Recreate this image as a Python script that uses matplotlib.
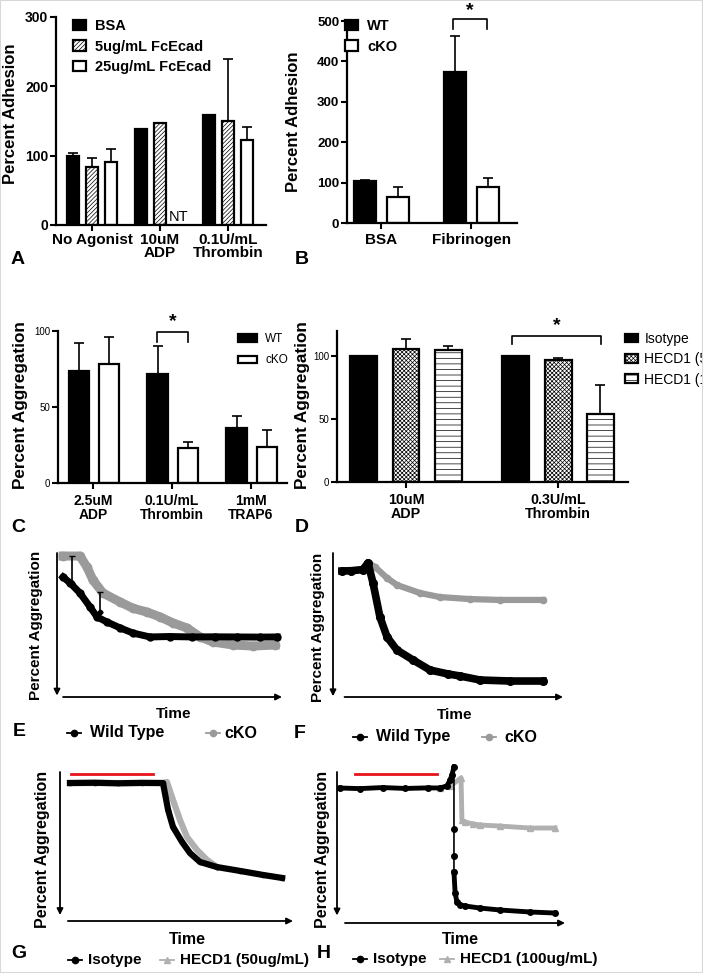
import numpy as np
import matplotlib
matplotlib.use('Agg')
import matplotlib.pyplot as plt
from matplotlib.lines import Line2D
from matplotlib.patches import Rectangle

plt.rcParams['font.family'] = ['Liberation Sans', 'DejaVu Sans']
plt.rcParams['hatch.linewidth'] = 0.5

# ---------------- data ----------------
# A: adhesion with FcEcad
a_groups = ['No Agonist', '10uM\nADP', '0.1U/mL\nThrombin']
a_series = ['BSA', '5ug/mL FcEcad', '25ug/mL FcEcad']
a_bsa = [100, 139, 158]
a_bsa_err = [4, 0, 0]
a_fc5 = [84, 147, 150]
a_fc5_err = [13, 0, 89]
a_fc25 = [91, np.nan, 122]
a_fc25_err = [18, 0, 20]

# B: adhesion WT vs cKO
b_groups = ['BSA', 'Fibrinogen']
b_series = ['WT', 'cKO']
b_wt = [103, 374]
b_wt_err = [4, 89]
b_cko = [64, 89]
b_cko_err = [24, 22]

# C: aggregation WT vs cKO
c_groups = ['2.5uM\nADP', '0.1U/mL\nThrombin', '1mM\nTRAP6']
c_series = ['WT', 'cKO']
c_wt = [74, 72, 36]
c_wt_err = [18, 18, 8]
c_cko = [78, 23, 24]
c_cko_err = [18, 4, 11]

# D: aggregation with HECD1
d_groups = ['10uM\nADP', '0.3U/mL\nThrombin']
d_series = ['Isotype', 'HECD1 (50ug/mL)', 'HECD1 (100ug/mL)']
d_iso = [100, 100]
d_iso_err = [0, 0]
d_h50 = [106, 97]
d_h50_err = [8, 1.5]
d_h100 = [105, 54]
d_h100_err = [3, 23]

# E: traces (time %, aggregation % of axis, downward)
e_wt_t = [2.7, 5.8, 10.2, 14.7, 17.8, 22.2, 28, 33.8, 41.3, 50, 60, 70, 80, 90, 97.8]
e_wt_y = [16.7, 20.8, 27.8, 37.5, 44.4, 47.9, 52, 55.6, 58.3, 58, 58.3, 58.2, 58.3, 58.4, 58.3]
e_wt_err_t = [6.7, 19.1]
e_wt_err_y = [20.5, 41]
e_wt_err = [18.4, 14]
e_cko_t = [2.7, 10.2, 13.3, 16, 20.4, 28, 33.8, 40, 45.8, 51.6, 57.8, 63.6, 69.3, 78.2, 87.1, 96.9]
e_cko_y = [2.1, 2.1, 9.7, 18.8, 27.8, 34, 38.4, 41, 44.4, 48.6, 52.1, 58.3, 61.8, 63.9, 64.6, 63.9]

# F
f_wt_t = [3.9, 8, 13, 15.2, 17.4, 20.4, 23.5, 27.8, 34.8, 42.2, 50, 55.2, 63.9, 77, 91.3]
f_wt_y = [12.5, 12.3, 11.5, 6.9, 20.8, 44.4, 58.3, 67.4, 74.3, 81.3, 84, 85.4, 88.2, 88.9, 88.9]
f_cko_t = [15.2, 18.3, 23.5, 27.8, 37.8, 46.5, 59.6, 72.6, 91.3]
f_cko_y = [6.9, 9.7, 17.4, 22.2, 27.8, 30.6, 32, 32.6, 32.6]

# G
g_iso_t = [4.3, 15, 25, 35, 44.2, 46.4, 48.5, 52.4, 55.8, 60.1, 67.4, 77.3, 87.1, 95.3]
g_iso_y = [7.4, 7.2, 7.6, 7.3, 7.4, 25.5, 36.9, 47, 54.4, 60.4, 63.8, 66.4, 69.1, 71.1]
g_h50_t = [4.3, 25, 44.2, 45.9, 48.5, 51.5, 54.5, 58.8, 63.1, 67.4]
g_h50_y = [7.4, 7.4, 7.4, 6.7, 18.8, 32.2, 43.6, 52.3, 59, 63.8]
g_red_t = [4.7, 39.9]
g_red_y = [1.3, 1.3]

# H
h_iso_t = [1.3, 10, 20, 30, 40, 45, 48.2, 49.6, 50.4, 51.3, 51.3, 51.3, 51.3,
           51.8, 52.6, 54, 56, 62.7, 71.5, 84.6, 95.6]
h_iso_y = [10.6, 11, 10.3, 10.9, 10.5, 10.6, 9.3, 5.3, 2, -3.3, 37.7, 55.6, 66.2,
           80, 86.1, 88.1, 88.7, 90.1, 91.4, 92.7, 93.4]
h_h100_t = [45, 50, 54.4, 54.8, 56, 59.6, 62.7, 71.5, 84.6, 95.6]
h_h100_y = [10.6, 9, 3.9, 31.8, 33.1, 34.4, 35.1, 35.8, 37.1, 37.1]
h_red_t = [7.9, 43.9]
h_red_y = [1.3, 1.3]

# ---------------- layout helpers ----------------
W, H = 703, 973
fig = plt.figure(figsize=(W / 100, H / 100), dpi=100)


def box(l, t, r, b):
    return [l / W, 1 - b / H, (r - l) / W, (b - t) / H]


def fx(x):
    return x / W


def fy(y):
    return 1 - y / H


def style_bar_axes(ax, tick_size, tick_weight, xlab_size, pad_x):
    ax.spines[['top', 'right']].set_visible(False)
    for s in ['left', 'bottom']:
        ax.spines[s].set_linewidth(1.6)
    ax.tick_params(direction='out', length=4, width=1.5, pad=1.5)
    ax.tick_params(axis='x', pad=pad_x)
    for lab in ax.get_yticklabels():
        lab.set_fontsize(tick_size)
        lab.set_fontweight(tick_weight)
    for lab in ax.get_xticklabels():
        lab.set_fontsize(xlab_size)
        lab.set_fontweight('bold')
        lab.set_linespacing(0.95)


def draw_bars(ax, vals_list, errs_list, offsets, width, styles, labels):
    x = np.arange(len(vals_list[0]))
    conts = []
    for vals, errs, off, st, lab in zip(vals_list, errs_list, offsets, styles, labels):
        c = ax.bar(x + off, vals, width, edgecolor='black', linewidth=1.6, label=lab, zorder=2, **st)
        conts.append(c)
        e = np.array(errs, float)
        v = np.array(vals, float)
        m = e > 0
        ax.errorbar((x + off)[m], v[m], yerr=[np.zeros(m.sum()), e[m]], fmt='none',
                    ecolor='black', elinewidth=1.2, capsize=3.5, capthick=1.2, zorder=1)
    return conts


def bracket(ax, x1, x2, y0, y1, ys, size=14):
    ax.plot([x1, x1, x2, x2], [y0, y1, y1, y0], color='black', lw=1.2, clip_on=False)
    ax.text((x1 + x2) / 2, ys, '*', ha='center', va='center', fontsize=size, fontweight='bold')


def bar_legend(ax, conts, labels, x_px, y_px, size, weight, hl, hh, ls, tp):
    return ax.legend(conts, labels, loc='upper left', bbox_to_anchor=(fx(x_px), fy(y_px)),
                     bbox_transform=fig.transFigure, frameon=False, borderpad=0, borderaxespad=0,
                     handlelength=hl, handleheight=hh, labelspacing=ls, handletextpad=tp,
                     prop={'size': size, 'weight': weight})


def trace_axes(l, t, r, b, ytip, xstart):
    ax = fig.add_axes(box(l, t, r, b))
    ax.set_xlim(0, 100)
    ax.set_ylim(100, 0)
    ax.axis('off')
    ap = dict(arrowstyle='-|>', lw=1.3, color='black', mutation_scale=9, shrinkA=0, shrinkB=0)
    ax.annotate('', xy=(0, ytip), xytext=(0, 1), xycoords='axes fraction', arrowprops=ap)
    ax.annotate('', xy=(1, 0), xytext=(xstart, 0), xycoords='axes fraction', arrowprops=ap)
    return ax


def trace_key(x_px, y_px, color, marker, text, size, tx):
    fig.add_artist(Line2D([fx(x_px), fx(x_px + 14)], [fy(y_px)] * 2, transform=fig.transFigure,
                          color=color, lw=1.3))
    fig.add_artist(Line2D([fx(x_px + 7)], [fy(y_px)], transform=fig.transFigure, color=color,
                          marker=marker, ms=4.5, lw=0))
    fig.text(fx(tx), fy(y_px), text, va='center', ha='left', fontsize=size, fontweight='bold')


def ylabel(x_px, y_px, text, size, weight='bold'):
    fig.text(fx(x_px), fy(y_px), text, rotation=90, ha='center', va='center',
             fontsize=size, fontweight=weight)


def letter(x_px, y_px, text):
    fig.text(fx(x_px), fy(y_px), text, ha='center', va='center', fontsize=14, fontweight='bold')


# ---------------- panel A ----------------
ax = fig.add_axes(box(56, 17, 266, 225))
conts = draw_bars(ax, [a_bsa, a_fc5, a_fc25], [a_bsa_err, a_fc5_err, a_fc25_err],
                  [-0.28, 0, 0.28], 0.17,
                  [dict(color='black'), dict(color='white', hatch='////////'), dict(color='white')],
                  a_series)
ax.set_xlim(-0.53, 2.56)
ax.set_ylim(0, 300)
ax.set_yticks([0, 100, 200, 300])
ax.set_xticks(range(3), a_groups)
style_bar_axes(ax, 10, 'bold', 11, 1.5)
ax.text(1.28, 1, 'NT', ha='center', va='bottom', fontsize=10.5)
bar_legend(ax, conts, a_series, 73, 19, 10.5, 'bold', 0.9, 0.75, 0.45, 0.6)
ylabel(11, 114, 'Percent Adhesion', 12)
letter(18, 260, 'A')

# ---------------- panel B ----------------
ax = fig.add_axes(box(347, 21, 517, 223))
conts = draw_bars(ax, [b_wt, b_cko], [b_wt_err, b_cko_err], [-0.18, 0.19], 0.245,
                  [dict(color='black'), dict(color='white')], b_series)
ax.set_xlim(-0.38, 1.51)
ax.set_ylim(0, 500)
ax.set_yticks(range(0, 501, 100))
ax.set_xticks(range(2), b_groups)
style_bar_axes(ax, 9.5, 'bold', 11, 3)
bracket(ax, 0.8, 1.18, 481, 504, 527)
bar_legend(ax, conts, b_series, 345, 19, 10.5, 'bold', 0.9, 0.75, 0.45, 0.6)
ylabel(294, 122, 'Percent Adhesion', 12)
letter(302, 260, 'B')

# ---------------- panel C ----------------
ax = fig.add_axes(box(58, 331, 287, 483))
conts = draw_bars(ax, [c_wt, c_cko], [c_wt_err, c_cko_err], [-0.18, 0.2], 0.26,
                  [dict(color='black'), dict(color='white')], c_series)
ax.set_xlim(-0.443, 2.456)
ax.set_ylim(0, 100)
ax.set_yticks([0, 50, 100])
ax.set_xticks(range(3), c_groups)
style_bar_axes(ax, 7, 'normal', 10, 4)
bracket(ax, 0.81, 1.2, 92.8, 99.3, 106)
bar_legend(ax, conts, c_series, 238, 333, 8.5, 'normal', 1.6, 0.6, 0.8, 0.7)
ylabel(21, 405, 'Percent Aggregation', 12.3)
letter(18, 528, 'C')

# ---------------- panel D ----------------
ax = fig.add_axes(box(337, 331, 628, 482))
conts = draw_bars(ax, [d_iso, d_h50, d_h100], [d_iso_err, d_h50_err, d_h100_err],
                  [-0.277, 0, 0.277], 0.177,
                  [dict(color='black'), dict(color='white', hatch='xxxxxxxx'),
                   dict(color='white', hatch='---')],
                  d_series)
ax.set_xlim(-0.454, 1.46)
ax.set_ylim(0, 120)
ax.set_yticks([0, 50, 100])
ax.set_xticks(range(2), d_groups)
style_bar_axes(ax, 7, 'normal', 10.3, 4)
bracket(ax, 0.697, 1.283, 109.6, 116.2, 124)
bar_legend(ax, conts, d_series, 625, 332, 10, 'normal', 0.9, 0.55, 0.45, 0.5)
ylabel(303, 405, 'Percent Aggregation', 12.3)
letter(302, 528, 'D')

# ---------------- panel E ----------------
ax = trace_axes(57, 553, 282, 697, 0.01, 0.027)
ax.plot(e_cko_t, e_cko_y, '-o', color='#9a9a9a', lw=6.5, ms=6, clip_on=False, zorder=2)
ax.plot(e_wt_t, e_wt_y, '-o', color='black', lw=5, ms=5, clip_on=False, zorder=3)
ax.errorbar(e_wt_err_t, e_wt_err_y, yerr=[e_wt_err, [0, 0]], fmt='o', color='black', ms=3,
            elinewidth=1.2, capsize=2, zorder=4)
fig.text(fx(174), fy(714), 'Time', ha='center', va='center', fontsize=11, fontweight='bold')
trace_key(67, 733, 'black', 'o', 'Wild Type', 11.5, 90)
trace_key(206, 733, '#9a9a9a', 'o', 'cKO', 11.5, 224)
ylabel(36, 625, 'Percent Aggregation', 11)
letter(19, 731, 'E')

# ---------------- panel F ----------------
ax = trace_axes(333, 553, 563, 697, 0.005, 0.05)
ax.plot(f_cko_t, f_cko_y, '-o', color='#9a9a9a', lw=4.5, ms=4.5, clip_on=False, zorder=2)
ax.plot(f_wt_t, f_wt_y, '-o', color='black', lw=5.5, ms=5.5, clip_on=False, zorder=3)
fig.text(fx(455), fy(715), 'Time', ha='center', va='center', fontsize=11, fontweight='bold')
trace_key(353, 737, 'black', 'o', 'Wild Type', 11.5, 376)
trace_key(482, 737, '#9a9a9a', 'o', 'cKO', 11.5, 504)
ylabel(318, 627, 'Percent Aggregation', 11)
letter(300, 734, 'F')

# ---------------- panel G ----------------
ax = trace_axes(60, 772, 293, 921, 0.04, 0.034)
ax.plot(g_red_t, g_red_y, color='#e8141c', lw=2, clip_on=False)
ax.plot(g_h50_t, g_h50_y, '-', color='#b0b0b0', lw=4.5, clip_on=False, zorder=2)
ax.plot(g_iso_t, g_iso_y, '-o', color='black', lw=4.5, ms=3, clip_on=False, zorder=3)
fig.text(fx(187), fy(940), 'Time', ha='center', va='center', fontsize=11.5, fontweight='bold')
trace_key(68, 960, 'black', 'o', 'Isotype', 11, 88)
trace_key(160, 960, '#b0b0b0', '^', 'HECD1 (50ug/mL)', 11, 180)
ylabel(43, 849, 'Percent Aggregation', 11.5)
letter(19, 953, 'G')

# ---------------- panel H ----------------
ax = trace_axes(337, 772, 565, 923, 0.05, 0.035)
ax.plot(h_red_t, h_red_y, color='#e8141c', lw=2, clip_on=False)
ax.plot(h_h100_t, h_h100_y, '-^', color='#b0b0b0', lw=3.5, ms=4, clip_on=False, zorder=2)
ax.plot(h_iso_t, h_iso_y, '-o', color='black', lw=1.2, ms=4, clip_on=False, zorder=3)
# dense parts of the isotype trace are drawn thicker
ax.plot(h_iso_t[:10], h_iso_y[:10], '-', color='black', lw=3.5, clip_on=False, zorder=3)
ax.plot(h_iso_t[12:], h_iso_y[12:], '-', color='black', lw=3.5, clip_on=False, zorder=3)
fig.text(fx(460), fy(940), 'Time', ha='center', va='center', fontsize=11.5, fontweight='bold')
trace_key(353, 959, 'black', 'o', 'Isotype', 11, 373)
trace_key(440, 959, '#b0b0b0', '^', 'HECD1 (100ug/mL)', 11, 460)
ylabel(322, 849, 'Percent Aggregation', 11.5)
letter(324, 953, 'H')

# light frame around the whole figure
fig.add_artist(Rectangle((0, 0), 1, 1, transform=fig.transFigure, fill=False,
                         edgecolor='#d8d8d8', lw=1.5))

fig.savefig('out.png', dpi=100)
